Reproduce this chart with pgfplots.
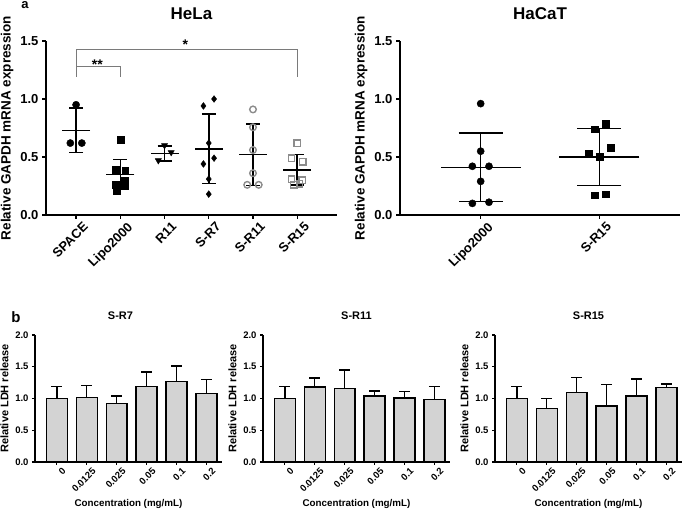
\documentclass[border=0pt]{standalone}
\usepackage{fontspec}
\setmainfont{Liberation Sans}
\usepackage{pgfplots}
\pgfplotsset{compat=1.18}

\definecolor{mgray}{HTML}{8C8C8C}
\definecolor{brgray}{HTML}{7A7A7A}
\definecolor{barfill}{HTML}{D3D3D3}

\pgfplotsset{
  base/.style={
    scale only axis, clip=false, ymin=0,
    axis lines=left, axis line style={-, black},
    tick align=outside, xtick pos=left, ytick pos=left,
    /pgf/number format/assume math mode=true,
    yticklabel style={/pgf/number format/.cd, fixed, fixed zerofill, precision=1},
  },
  top/.style={base,
    width=0pt, height=174pt, ymax=1.5, ytick={0,0.5,1,1.5},
    axis line style={line width=1.5pt}, tick style={black, line width=1.3pt},
    major tick length=4pt,
    tick label style={font=\fontsize{13}{14}\selectfont\bfseries},
    xticklabel style={rotate=45, anchor=north east, inner sep=1pt, xshift=4pt, yshift=-5pt},
    label style={font=\fontsize{13.5}{15}\selectfont\bfseries},
    title style={font=\fontsize{17}{18}\selectfont\bfseries, at={(0.5,1)}, anchor=base, yshift=15pt},
    ylabel={Relative GAPDH mRNA expression},
  },
  bot/.style={base,
    width=187pt, height=127pt, ymax=2, ytick={0,0.5,1,1.5,2},
    xmin=-0.73, xmax=5.52, xtick={0,...,5},
    xticklabels={0,0.0125,0.025,0.05,0.1,0.2},
    axis line style={line width=1.3pt}, tick style={black, line width=1.1pt},
    major tick length=3pt,
    tick label style={font=\fontsize{9.5}{10}\selectfont\bfseries},
    xticklabel style={rotate=45, anchor=north east, inner sep=1pt, xshift=3pt, yshift=-4pt},
    ylabel style={font=\fontsize{11}{12}\selectfont\bfseries},
    xlabel style={font=\fontsize{9.8}{11}\selectfont\bfseries, yshift=-2pt},
    title style={font=\fontsize{11}{12}\selectfont\bfseries, at={(0.5,1)}, anchor=base, yshift=9pt},
    ylabel={Relative LDH release},
    xlabel={Concentration (mg/mL)},
  },
  meanL/.style={black, only marks, mark=-, mark size=14pt, mark options={line width=1.6pt},
    error bars/.cd, y dir=both, y explicit,
    error bar style={line width=1.6pt},
    error mark options={black, line width=1.6pt, mark size=7pt, rotate=90}},
  meanR/.style={black, only marks, mark=-, mark size=40pt, mark options={line width=1.6pt},
    error bars/.cd, y dir=both, y explicit,
    error bar style={line width=1.6pt},
    error mark options={black, line width=1.6pt, mark size=22pt, rotate=90}},
  ldh/.style={ybar, bar width=0.7, fill=barfill, draw=black, line width=1.4pt,
    error bars/.cd, y dir=plus, y explicit,
    error bar style={line width=1.4pt, black},
    error mark options={black, line width=1.4pt, mark size=5.5pt, rotate=90}},
}

\begin{document}
\begin{tikzpicture}
\useasboundingbox (0,0) rectangle (685pt,513pt);

% ---------- a: HeLa ----------
\begin{axis}[top, at={(46pt,298pt)}, anchor=south west, width=291pt,
  xmin=-0.68, xmax=5.9, xtick={0,...,5},
  xticklabels={SPACE,Lipo2000,R11,S-R7,S-R11,S-R15}, title={HeLa}]
  % significance brackets
  \addplot[brgray, line width=1.1pt] coordinates {(0,1.19)(0,1.43)(5,1.43)(5,1.19)};
  \addplot[brgray, line width=1.1pt] coordinates {(0,1.19)(0,1.28)(1,1.28)(1,1.19)};
  \node[font=\fontsize{14}{14}\selectfont\bfseries] at (axis cs:2.47,1.47) {*};
  \node[font=\fontsize{14}{14}\selectfont\bfseries] at (axis cs:0.48,1.30) {**};
  % SPACE
  \addplot[only marks, mark=*, mark size=3.6pt, black]
    coordinates {(0,0.95)(-0.13,0.62)(0.13,0.62)};
  % Lipo2000
  \addplot[only marks, mark=square*, mark size=3.4pt, black]
    coordinates {(1,0.65)(0.89,0.39)(1.11,0.38)(1.1,0.30)(0.89,0.26)(1.1,0.25)(0.92,0.21)};
  % R11
  \addplot[only marks, mark=triangle*, mark size=3.6pt, black, mark options={rotate=180}]
    coordinates {(2,0.60)(2.15,0.54)(1.86,0.47)};
  % S-R7
  \addplot[only marks, mark=diamond*, mark size=3.4pt, black]
    coordinates {(3.12,1.0)(2.88,0.94)(3,0.62)(3.12,0.49)(2.88,0.44)(3,0.31)(3,0.18)};
  % S-R11
  \addplot[only marks, mark=o, mark size=3.3pt, mgray, mark options={line width=1.4pt}]
    coordinates {(4,0.91)(4,0.756)(4,0.56)(4,0.36)(3.87,0.26)(4.13,0.26)};
  % S-R15
  \addplot[only marks, mark=square, mark size=3.2pt, mgray, mark options={line width=1.4pt}]
    coordinates {(5,0.62)(4.87,0.49)(5.13,0.46)(4.87,0.31)(5.11,0.30)(4.92,0.26)(5.05,0.27)};
  % mean +- SD
  \addplot[meanL] coordinates {
    (0,0.73) +- (0,0.19)
    (1,0.35) +- (0,0.13)
    (2,0.53) +- (0,0.065)
    (3,0.57) +- (0,0.30)
    (4,0.52) +- (0,0.265)
    (5,0.39) +- (0,0.133)};
\end{axis}
\node[font=\fontsize{13}{14}\selectfont\bfseries, anchor=base] at (25pt,504pt) {a};

% ---------- a: HaCaT ----------
\begin{axis}[top, at={(400pt,298pt)}, anchor=south west, width=280pt,
  xmin=-0.68, xmax=1.68, xtick={0,1},
  xticklabels={Lipo2000,S-R15}, title={HaCaT}]
  \addplot[only marks, mark=*, mark size=3.6pt, black]
    coordinates {(0,0.96)(0,0.55)(-0.07,0.42)(0.07,0.42)(0,0.29)(-0.07,0.10)(0.07,0.11)};
  \addplot[only marks, mark=square*, mark size=3.4pt, black]
    coordinates {(1.056,0.79)(0.958,0.74)(1.098,0.58)(0.91,0.53)(1,0.50)(0.958,0.17)(1.056,0.18)};
  \addplot[meanR] coordinates {
    (0,0.41) +- (0,0.295)
    (1,0.50) +- (0,0.245)};
\end{axis}

% ---------- b: LDH ----------
\begin{axis}[bot, at={(35pt,51pt)}, anchor=south west, title={S-R7},
  title style={xshift=-8pt}]
  \addplot[ldh] coordinates {
    (0,1.00) +- (0,0.19)
    (1,1.02) +- (0,0.18)
    (2,0.92) +- (0,0.12)
    (3,1.19) +- (0,0.23)
    (4,1.27) +- (0,0.24)
    (5,1.08) +- (0,0.22)};
\end{axis}
\node[font=\fontsize{15}{16}\selectfont\bfseries, anchor=base] at (16pt,190pt) {b};

\begin{axis}[bot, at={(263pt,51pt)}, anchor=south west, title={S-R11}]
  \addplot[ldh] coordinates {
    (0,1.00) +- (0,0.19)
    (1,1.18) +- (0,0.14)
    (2,1.16) +- (0,0.29)
    (3,1.04) +- (0,0.08)
    (4,1.01) +- (0,0.10)
    (5,0.98) +- (0,0.21)};
\end{axis}

\begin{axis}[bot, at={(495pt,51pt)}, anchor=south west, title={S-R15}]
  \addplot[ldh] coordinates {
    (0,1.00) +- (0,0.19)
    (1,0.84) +- (0,0.16)
    (2,1.09) +- (0,0.24)
    (3,0.88) +- (0,0.34)
    (4,1.04) +- (0,0.27)
    (5,1.17) +- (0,0.06)};
\end{axis}
\end{tikzpicture}
\end{document}
